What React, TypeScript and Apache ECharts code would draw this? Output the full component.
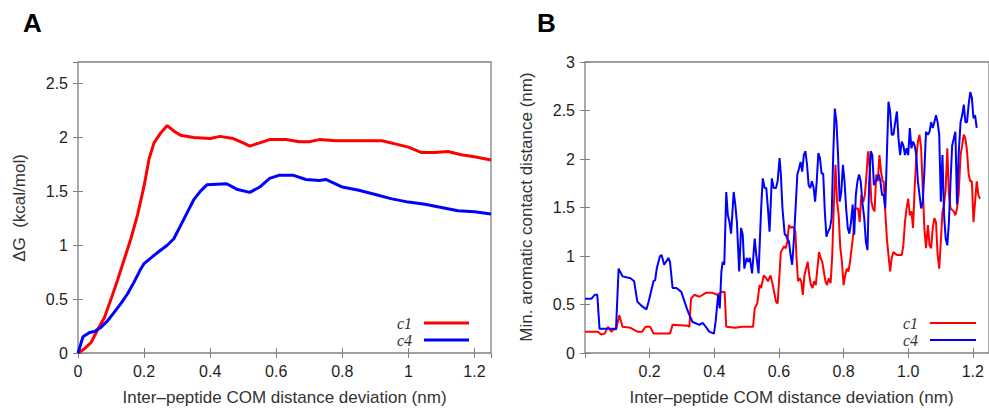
import React, { useEffect, useRef } from "react";
import * as echarts from "echarts";

// ---------- Panel A: free energy profiles ----------
const aC1X = [0, 0.02, 0.04, 0.06, 0.08, 0.1, 0.12, 0.14, 0.16, 0.18, 0.2, 0.215, 0.23, 0.25, 0.27, 0.29, 0.31, 0.35, 0.4, 0.43, 0.47, 0.5, 0.52, 0.55, 0.58, 0.63, 0.67, 0.7, 0.73, 0.78, 0.85, 0.92, 0.96, 1.0, 1.04, 1.08, 1.12, 1.16, 1.2, 1.25];
const aC1Y = [0, 0.04, 0.1, 0.22, 0.33, 0.5, 0.68, 0.87, 1.06, 1.28, 1.55, 1.8, 1.95, 2.04, 2.11, 2.06, 2.02, 2.0, 1.99, 2.01, 1.99, 1.95, 1.92, 1.95, 1.98, 1.98, 1.96, 1.96, 1.98, 1.97, 1.97, 1.97, 1.94, 1.91, 1.86, 1.86, 1.87, 1.84, 1.82, 1.79];
const aC4X = [0, 0.015, 0.035, 0.05, 0.07, 0.09, 0.11, 0.13, 0.15, 0.17, 0.19, 0.2, 0.22, 0.24, 0.27, 0.29, 0.31, 0.33, 0.35, 0.37, 0.39, 0.45, 0.48, 0.52, 0.55, 0.58, 0.61, 0.65, 0.69, 0.73, 0.75, 0.8, 0.85, 0.9, 0.95, 1.0, 1.05, 1.1, 1.15, 1.2, 1.25];
const aC4Y = [0, 0.15, 0.19, 0.2, 0.24, 0.3, 0.38, 0.46, 0.55, 0.66, 0.78, 0.83, 0.88, 0.93, 1.0, 1.06, 1.18, 1.3, 1.42, 1.5, 1.56, 1.57, 1.52, 1.49, 1.54, 1.62, 1.65, 1.65, 1.61, 1.6, 1.61, 1.54, 1.51, 1.47, 1.43, 1.4, 1.38, 1.35, 1.32, 1.31, 1.29];

// ---------- Panel B: min. aromatic contact distance ----------
const bC1X = [0, 0.04, 0.05, 0.061, 0.071, 0.081, 0.091, 0.096, 0.106, 0.116, 0.141, 0.162, 0.177, 0.187, 0.202, 0.212, 0.263, 0.271, 0.318,
  0.323, 0.328, 0.338, 0.354, 0.374, 0.394, 0.409, 0.424, 0.432, 0.437, 0.465, 0.485, 0.52, 0.525, 0.533, 0.54, 0.545, 0.553, 0.561, 0.566, 0.574, 0.581, 0.591, 0.596, 0.606, 0.616,
  0.621, 0.626, 0.631, 0.636, 0.641, 0.646, 0.651, 0.654, 0.659, 0.664, 0.669, 0.674, 0.679, 0.684, 0.689, 0.694, 0.699, 0.704, 0.709, 0.714, 0.719, 0.724, 0.729, 0.734, 0.739, 0.744, 0.749, 0.754, 0.76, 0.765, 0.77, 0.775, 0.78, 0.785, 0.79, 0.795, 0.8, 0.805, 0.81, 0.815, 0.82, 0.825, 0.83, 0.835, 0.84, 0.845, 0.85, 0.855, 0.861, 0.866, 0.871, 0.876, 0.881, 0.886, 0.891, 0.896, 0.901, 0.906, 0.911, 0.916, 0.921,
  0.924, 0.929, 0.934, 0.939, 0.944, 0.949, 0.954, 0.965, 0.98, 0.985, 0.99, 0.995, 1.0, 1.005, 1.01, 1.015, 1.02, 1.025, 1.03, 1.035, 1.04, 1.045, 1.05, 1.055, 1.061, 1.066, 1.071, 1.076, 1.081, 1.086, 1.091, 1.096, 1.101, 1.106, 1.111, 1.116, 1.121, 1.126, 1.131, 1.141, 1.146, 1.151, 1.156, 1.162, 1.167, 1.172, 1.177, 1.182, 1.187, 1.192, 1.197, 1.202, 1.207, 1.212, 1.217, 1.222];
const bC1Y = [0.22, 0.22, 0.19, 0.2, 0.27, 0.22, 0.25, 0.24, 0.39, 0.27, 0.26, 0.22, 0.22, 0.27, 0.27, 0.2, 0.2, 0.29, 0.28,
  0.27, 0.56, 0.6, 0.58, 0.62, 0.62, 0.6, 0.63, 0.63, 0.27, 0.26, 0.27, 0.27, 0.46, 0.51, 0.7, 0.67, 0.8, 0.77, 0.74, 0.8, 0.7, 0.53, 0.51, 1.04, 1.1,
  1.08, 1.15, 1.32, 1.29, 1.3, 1.29, 1.25, 1.01, 0.74, 0.77, 0.74, 0.6, 0.8, 0.87, 0.94, 0.8, 0.7, 0.67, 0.74, 0.7, 0.87, 1.04, 0.98, 0.94, 0.84, 0.74, 0.7, 0.77, 0.72, 1.01, 1.53, 1.94, 1.56, 1.42, 1.08, 0.94, 0.7, 0.8, 0.87, 0.84, 0.94, 1.08, 1.22, 1.49, 1.49, 1.49, 1.35, 1.63, 1.56, 1.63, 1.84, 2.08, 1.9, 1.56, 1.49, 1.46, 1.84, 1.77, 2.04, 1.87, 1.77,
  1.77, 1.46, 1.18, 1.01, 0.84, 0.98, 1.04, 1.01, 1.01, 1.11, 1.35, 1.49, 1.59, 1.42, 1.46, 1.29, 1.7, 2.01, 2.18, 2.25, 2.11, 1.7, 1.29, 1.08, 1.32, 1.11, 1.08, 1.29, 1.39, 1.35, 1.01, 0.87, 1.15, 1.46, 1.53, 1.7, 2.11, 1.63, 1.49, 1.46, 1.42, 1.49, 1.63, 2.04, 2.14, 2.25, 2.21, 2.08, 1.84, 1.77, 1.77, 1.35, 1.56, 1.77, 1.63, 1.59];
const bC4X = [0, 0.02, 0.03, 0.038, 0.045, 0.096, 0.104, 0.116, 0.141, 0.152, 0.162, 0.177, 0.19, 0.197, 0.212, 0.217, 0.222, 0.232, 0.237, 0.245, 0.258, 0.263, 0.271, 0.283, 0.298, 0.315,
  0.323, 0.333, 0.354, 0.364, 0.374, 0.384, 0.399, 0.404, 0.412, 0.417, 0.422, 0.426, 0.431, 0.437, 0.442, 0.447, 0.452, 0.46, 0.465, 0.47, 0.477, 0.483, 0.488, 0.493, 0.5, 0.505, 0.51, 0.517, 0.525, 0.53, 0.537, 0.545, 0.55, 0.556, 0.561, 0.566, 0.571, 0.578, 0.584, 0.591, 0.596, 0.602, 0.606, 0.611, 0.618,
  0.621, 0.626, 0.631, 0.636, 0.641, 0.646, 0.651, 0.657, 0.662, 0.667, 0.672, 0.677, 0.682, 0.687, 0.692, 0.697, 0.702, 0.707, 0.712, 0.717, 0.722, 0.727, 0.732, 0.737, 0.742, 0.747, 0.752, 0.758, 0.763, 0.768, 0.773, 0.778, 0.783, 0.788, 0.793, 0.798, 0.803, 0.808, 0.813, 0.818, 0.823, 0.828, 0.833, 0.838, 0.843, 0.848, 0.853, 0.859, 0.864, 0.869, 0.874, 0.879, 0.884, 0.889, 0.894, 0.899, 0.904, 0.909, 0.914, 0.919,
  0.924, 0.929, 0.934, 0.939, 0.944, 0.949, 0.954, 0.96, 0.965, 0.97, 0.975, 0.98, 0.985, 0.99, 0.995, 1.0, 1.005, 1.01, 1.015, 1.02, 1.025, 1.03, 1.035, 1.04, 1.045, 1.05, 1.055, 1.061, 1.066, 1.071, 1.076, 1.081, 1.086, 1.091, 1.096, 1.101, 1.106, 1.111, 1.116, 1.121, 1.126, 1.131, 1.136, 1.141, 1.146, 1.151, 1.156, 1.162, 1.167, 1.172, 1.177, 1.182, 1.187, 1.192, 1.197, 1.202, 1.207, 1.212];
const bC4Y = [0.56, 0.56, 0.6, 0.6, 0.25, 0.25, 0.87, 0.79, 0.77, 0.74, 0.53, 0.48, 0.45, 0.53, 0.74, 0.75, 0.87, 1.0, 1.01, 0.91, 0.98, 0.94, 0.67, 0.67, 0.63, 0.46,
  0.39, 0.32, 0.29, 0.31, 0.27, 0.22, 0.2, 0.32, 0.6, 0.46, 0.84, 0.94, 0.91, 1.66, 1.42, 1.35, 1.23, 1.66, 1.53, 1.35, 0.84, 1.29, 1.22, 0.87, 0.98, 0.94, 0.98, 0.82, 1.18, 1.01, 0.82, 1.49, 1.8, 1.7, 1.7, 1.49, 1.25, 1.8, 1.7, 1.7, 1.77, 2.01, 1.84, 1.49, 1.22,
  1.22, 1.18, 1.15, 1.01, 0.91, 1.15, 1.46, 1.84, 1.9, 1.97, 1.87, 2.04, 2.08, 1.94, 1.73, 1.7, 1.77, 1.71, 1.56, 1.77, 2.06, 2.01, 1.85, 1.85, 1.46, 1.2, 1.25, 1.29, 1.39, 2.04, 2.52, 2.38, 2.04, 1.56, 1.66, 1.94, 1.77, 1.49, 1.29, 1.23, 1.35, 1.53, 1.22, 1.63, 1.77, 1.84, 1.77, 1.53, 1.39, 1.15, 1.06, 1.73, 2.08, 2.04, 1.73, 1.77, 1.8, 1.84, 1.77, 1.63,
  1.63, 1.49, 2.04, 2.59, 2.49, 2.25, 2.25, 2.38, 2.49, 2.21, 2.04, 2.18, 2.14, 2.04, 2.11, 2.04, 2.32, 2.11, 2.18, 2.14, 2.04, 1.77, 1.63, 1.49, 1.56, 1.87, 2.28, 2.25, 2.28, 2.38, 2.32, 2.38, 2.45, 2.38, 2.25, 1.56, 2.04, 1.42, 1.18, 1.11, 1.35, 1.77, 2.14, 2.21, 2.28, 1.53, 2.04, 2.38, 2.45, 2.56, 2.38, 2.38, 2.56, 2.69, 2.63, 2.42, 2.45, 2.32];

const seriesNames = ["c1", "c4"];
const seriesColors = ["#ff0000", "#0000ff"];
const xTitle = "Inter\u2013peptide COM distance deviation (nm)";
const yTitleA = "\u0394G  (kcal/mol)";
const yTitleB = "Min. aromatic contact distance (nm)";

const zip = (xs: number[], ys: number[]) => xs.map((x, i) => [x, ys[i]]);

const FRAME = "#808080";
const LABEL = "#1e1e1e";
const SANS = "'Liberation Sans', Arial, sans-serif";

export default function App() {
  const ref = useRef<HTMLDivElement>(null);
  useEffect(() => {
    if (!ref.current) return;
    const chart = echarts.init(ref.current, undefined, { renderer: "svg" });
    const grids = [
      { left: 78, top: 62, width: 413, height: 291 },
      { left: 585, top: 62, width: 413, height: 291 },
    ].map((g) => ({ ...g, show: true, borderColor: FRAME, borderWidth: 1.3, backgroundColor: "transparent" }));

    const tick = { show: true, inside: true, length: 5, lineStyle: { color: FRAME, width: 1 } };
    const fmtA = (v: number) => String(Math.round(v * 10) / 10);
    const fmtB = (v: number) => (Math.round(v * 10) / 10).toFixed(1);
    const fmtY = (v: number) => String(Math.round(v * 10) / 10);
    const lbl = { color: LABEL, fontSize: 16, fontFamily: SANS };

    const xBase = (gi: number, max: number) => ({
      type: "value", gridIndex: gi, min: 0, max, interval: 0.2,
      axisLine: { show: false }, splitLine: { show: false }, axisTick: tick,
    });
    const yBase = (gi: number, max: number) => ({
      type: "value", gridIndex: gi, min: 0, max, interval: 0.5,
      axisLine: { show: false }, splitLine: { show: false }, axisTick: tick,
    });

    const xAxis = [
      { ...xBase(0, 1.25), position: "bottom", axisLabel: { ...lbl, margin: 10, formatter: fmtA, showMaxLabel: false } },
      { ...xBase(1, 1.25), position: "bottom", axisLabel: { ...lbl, margin: 10, formatter: fmtB, showMinLabel: false, showMaxLabel: false } },
      { ...xBase(0, 1.25), position: "top", axisLabel: { show: false } },
      { ...xBase(1, 1.25), position: "top", axisLabel: { show: false } },
    ];
    const yAxis = [
      { ...yBase(0, 2.7), position: "left", axisLabel: { ...lbl, margin: 10, formatter: fmtY, showMaxLabel: false } },
      { ...yBase(1, 3), position: "left", axisLabel: { ...lbl, margin: 10, formatter: fmtY } },
      { ...yBase(0, 2.7), position: "right", axisLabel: { show: false } },
      { ...yBase(1, 3), position: "right", axisLabel: { show: false } },
    ];

    const line = (name: string, color: string, data: number[][], gi: number, width: number) => ({
      type: "line", name, xAxisIndex: gi, yAxisIndex: gi, data, showSymbol: false, symbol: "none",
      lineStyle: { color, width }, itemStyle: { color }, clip: true, silent: true,
    });

    const series = [
      line(seriesNames[0], seriesColors[0], zip(aC1X, aC1Y), 0, 3),
      line(seriesNames[1], seriesColors[1], zip(aC4X, aC4Y), 0, 3),
      line(seriesNames[0], seriesColors[0], zip(bC1X, bC1Y), 1, 2),
      line(seriesNames[1], seriesColors[1], zip(bC4X, bC4Y), 1, 2),
    ];

    const titleFont = "17px 'Liberation Sans', Arial, sans-serif";
    const legendItems = (textRight: number, lineX1: number, lineX2: number, width: number) =>
      seriesNames.flatMap((n, i) => {
        const y = 323 + i * 17;
        return [
          { type: "text", x: textRight, y, style: { text: n, textAlign: "right", textVerticalAlign: "middle", font: "italic 16px 'Liberation Serif', 'Times New Roman', serif", fill: "#333" } },
          { type: "line", shape: { x1: lineX1, y1: y, x2: lineX2, y2: y }, style: { stroke: seriesColors[i], lineWidth: width } },
        ];
      });

    const graphic = [
      { type: "text", x: 23, y: 23, style: { text: "A", textVerticalAlign: "middle", font: "bold 26px 'Liberation Sans', Arial, sans-serif", fill: "#000" } },
      { type: "text", x: 537, y: 23, style: { text: "B", textVerticalAlign: "middle", font: "bold 26px 'Liberation Sans', Arial, sans-serif", fill: "#000" } },
      { type: "text", x: 284.5, y: 397, style: { text: xTitle, textAlign: "center", textVerticalAlign: "middle", font: titleFont, fill: "#333" } },
      { type: "text", x: 791.5, y: 397, style: { text: xTitle, textAlign: "center", textVerticalAlign: "middle", font: titleFont, fill: "#333" } },
      { type: "text", x: 19, y: 208, rotation: Math.PI / 2, style: { text: yTitleA, textAlign: "center", textVerticalAlign: "middle", font: titleFont, fill: "#333" } },
      { type: "text", x: 526, y: 207, rotation: Math.PI / 2, style: { text: yTitleB, textAlign: "center", textVerticalAlign: "middle", font: titleFont, fill: "#333" } },
      ...legendItems(412, 424, 469, 3),
      ...legendItems(918, 930, 976, 2),
    ];

    chart.setOption({
      animation: false,
      textStyle: { fontFamily: SANS },
      grid: grids,
      xAxis,
      yAxis,
      series,
      graphic,
    } as any);
    return () => chart.dispose();
  }, []);
  return <div ref={ref} style={{ position: "fixed", left: 0, top: 0, width: 989, height: 411, background: "#fff" }} />;
}
